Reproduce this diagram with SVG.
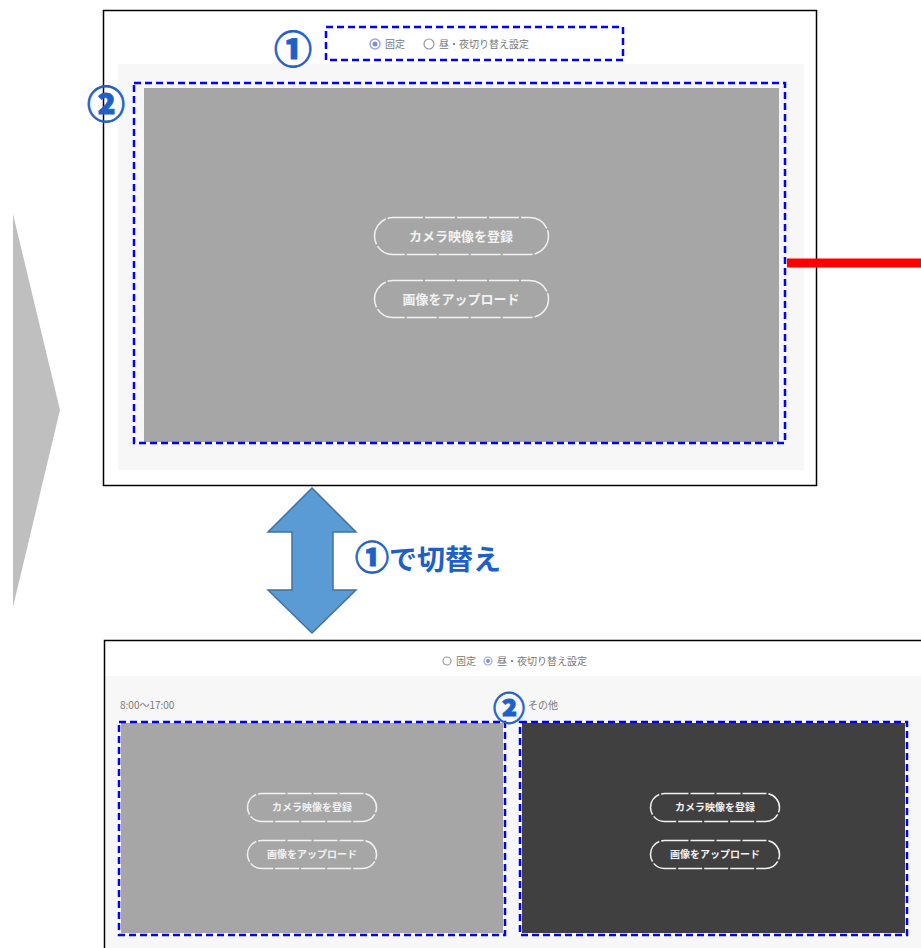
<svg xmlns="http://www.w3.org/2000/svg" width="921" height="948" viewBox="0 0 921 948">
<style>
.frame{fill:#fff;stroke:#000;stroke-width:1.5}
.panel{fill:#f7f7f7}
.sel{fill:none;stroke:#0000ff;stroke-width:2.5;stroke-dasharray:7,4}
.btn{fill:none;stroke:#f2f2f2;stroke-width:1.5}
.btxt{font-family:"Noto Sans CJK JP",sans-serif;font-weight:bold;fill:#f2f2f2;text-anchor:middle}
.num{font-family:"Noto Sans CJK JP","DejaVu Sans",sans-serif;font-weight:900;fill:#1f5fc8;stroke:#1f5fc8;stroke-width:0.8;text-anchor:middle}
.small{font-family:"Noto Sans CJK JP",sans-serif;fill:#777;font-size:10px}
</style>
<rect width="921" height="948" fill="#fff"/>
<g id="chevron"><polygon points="13,214 60,410 13,607" fill="#bfbfbf"/></g>
<g id="top-screen">
<rect class="frame" x="103.5" y="10.5" width="713" height="475"/>
<rect class="panel" x="118" y="64" width="686" height="406"/>
<rect x="144" y="88" width="635" height="354" fill="#a6a6a6"/>
<circle cx="375" cy="44" r="5" fill="none" stroke="#9aa6e6" stroke-width="1.5"/>
<circle cx="375" cy="44" r="2.5" fill="#7f8de0"/>
<text class="small" x="385" y="48">固定</text>
<circle cx="429" cy="44" r="5" fill="none" stroke="#999" stroke-width="1.2"/>
<text class="small" x="439" y="48">昼・夜切り替え設定</text>
<rect class="sel" x="326" y="27" width="297" height="33"/>
<text class="num" x="293" y="63" font-size="38">①</text>
<rect class="sel" x="134" y="83" width="651" height="360"/>
<text class="num" x="106" y="118" font-size="38">②</text>
<rect class="btn" x="374.5" y="217.5" width="174" height="37" rx="18.5" stroke-dasharray="30,2"/>
<text class="btxt" x="461" y="241" font-size="13">カメラ映像を登録</text>
<rect class="btn" x="374.5" y="280.5" width="174" height="37" rx="18.5" stroke-dasharray="30,2"/>
<text class="btxt" x="461" y="304" font-size="13">画像をアップロード</text>
</g>
<g id="connectors">
<line x1="787" y1="263" x2="921" y2="263" stroke="#ff0000" stroke-width="9"/>
<line x1="907" y1="842" x2="921" y2="842" stroke="#ff0000" stroke-width="9"/>
<polygon points="312,488 356,532 333,532 333,590 356,590 312,633 268,590 292,590 292,532 268,532" fill="#5b9bd5" stroke="#41719c" stroke-width="1.5"/>
</g>
<g id="switch-label">
<text x="355" y="570" font-family="Noto Sans CJK JP,sans-serif" font-weight="bold" font-size="28" fill="#1f5fc8"><tspan font-size="34" font-weight="900" stroke="#1f5fc8" stroke-width="0.8">①</tspan>で切替え</text>
</g>
<g id="bottom-screen">
<rect class="frame" x="104.5" y="640.5" width="830" height="320"/>
<rect class="panel" x="106" y="676" width="815" height="272"/>
<circle cx="447" cy="661" r="4" fill="none" stroke="#999" stroke-width="1.2"/>
<text class="small" x="456" y="665" font-size="8">固定</text>
<circle cx="488" cy="661" r="4" fill="none" stroke="#9aa6e6" stroke-width="1.2"/>
<circle cx="488" cy="661" r="2" fill="#7f8de0"/>
<text class="small" x="497" y="665" font-size="8">昼・夜切り替え設定</text>
<text class="small" x="120" y="709" font-size="10">8:00～17:00</text>
<text class="small" x="528" y="709" font-size="10">その他</text>
<rect x="121" y="723" width="382" height="210" fill="#a6a6a6"/>
<rect x="522" y="723" width="383" height="210" fill="#404040"/>
<rect class="sel" x="119" y="722" width="386" height="213"/>
<rect class="sel" x="520" y="722" width="387" height="213"/>
<text class="num" x="509" y="720" font-size="32">②</text>
<rect class="btn" x="247.5" y="793.5" width="129" height="28" rx="14" stroke-dasharray="24,2"/>
<text class="btxt" x="312" y="811" font-size="10">カメラ映像を登録</text>
<rect class="btn" x="247.5" y="840.5" width="129" height="28" rx="14" stroke-dasharray="24,2"/>
<text class="btxt" x="312" y="858" font-size="10">画像をアップロード</text>
<rect class="btn" x="650.5" y="793.5" width="129" height="28" rx="14" stroke-dasharray="24,2"/>
<text class="btxt" x="715" y="811" font-size="10">カメラ映像を登録</text>
<rect class="btn" x="650.5" y="840.5" width="129" height="28" rx="14" stroke-dasharray="24,2"/>
<text class="btxt" x="715" y="858" font-size="10">画像をアップロード</text>
</g>
</svg>
